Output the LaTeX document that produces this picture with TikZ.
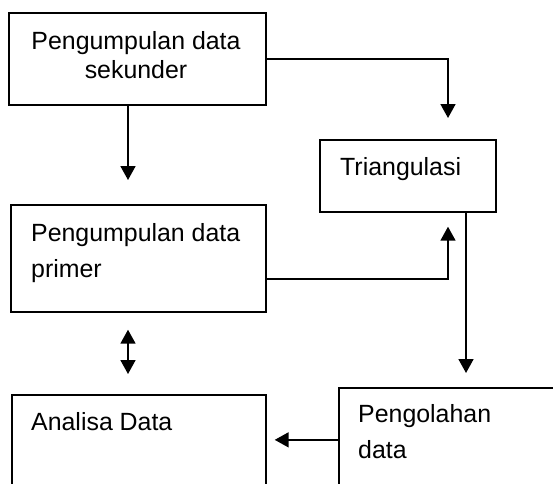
\documentclass[tikz,border=0pt]{standalone}
\usepackage{fontspec}
\setmainfont{Liberation Sans}
\usetikzlibrary{positioning}
\usetikzlibrary{arrows.meta}
\tikzset{
    mybox/.style = {rectangle, draw=black, line width=1.7pt, inner sep=0pt, anchor=north west},
    mytext/.style = {inner sep=0pt, font=\fontsize{24.9}{29}\selectfont},
    mytextw/.style = {inner sep=0pt, align=left, anchor=base west, font=\fontsize{24.9}{36}\selectfont},
    edgen/.style = {-{Triangle[width=15pt,length=14pt]}, line width=1.7pt},
    edged/.style = {{Triangle[width=15pt,length=14pt]}-{Triangle[width=15pt,length=14pt]}, line width=1.7pt}
}

\begin{document}
\begin{tikzpicture}[x=1pt, y=-1pt]
  \useasboundingbox (0,0) rectangle (553,483);
  \clip (0,0) rectangle (553,483);

  % columns of the connectors
  \coordinate (lx) at (128,0);
  \coordinate (rx) at (448,0);
  \coordinate (tx) at (466,0);

  \node[mybox, minimum width=257pt, minimum height=92pt] (sek) at (8,12) {};
  \node[mybox, minimum width=176pt, minimum height=72pt] (tri) at (319,139) {};
  \node[mybox, minimum width=255pt, minimum height=107pt] (pri) at (10,204) {};
  \node[mybox, minimum width=254pt, minimum height=140pt] (ana) at (11,394) {};
  \node[mybox, minimum width=260pt, minimum height=104pt] (peng) at (338,387) {};

  % base anchor = baseline of the last line
  \node[mytext, align=center, anchor=base] (sekT) at (136,78) {Pengumpulan data\\sekunder};
  \node[mytext, anchor=base west] (triT) at (340,175) {Triangulasi};
  \node[mytextw] (priT) at (31,277) {Pengumpulan data\\primer};
  \node[mytextw] (anaT) at (31,430) {Analisa Data};
  \node[mytextw] (pengT) at (358,458) {Pengolahan\\data};

  \draw[edgen, shorten >=24pt] (sek.south -| lx) -- (pri.north -| lx);
  \draw[edgen, shorten >=21pt] (sek.east) -| (tri.north -| rx);
  \draw[edgen, shorten >=14pt] ([yshift=-20.5pt]pri.east) -| (tri.south -| rx);
  \draw[edgen, shorten >=14pt] (tri.south -| tx) -- (peng.north -| tx);
  \draw[edged, shorten <=17pt, shorten >=20pt] (pri.south -| lx) -- (ana.north -| lx);
  \draw[edgen, shorten >=8pt] (peng.west) -- (ana.east |- peng.west);
\end{tikzpicture}
\end{document}
